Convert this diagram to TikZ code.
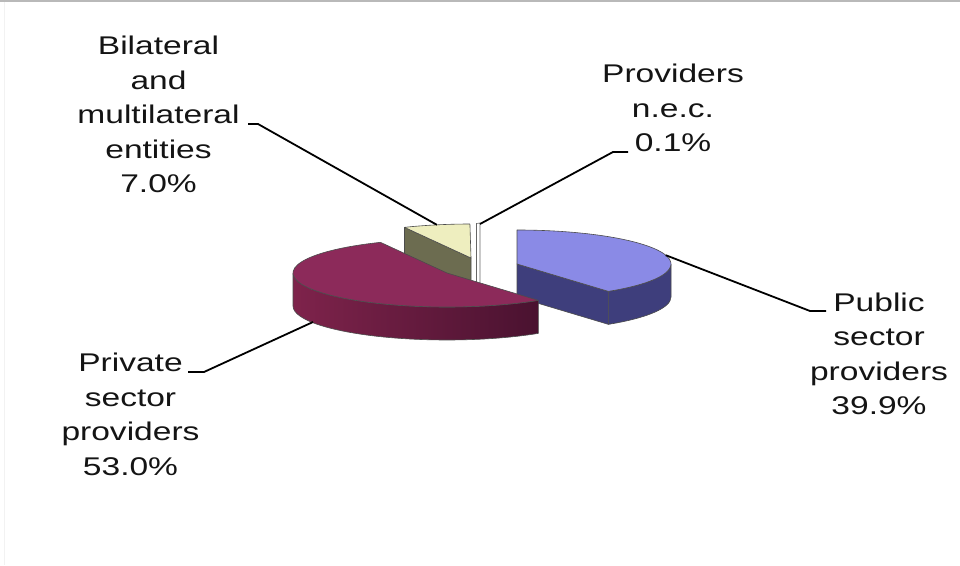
\documentclass[tikz,border=0pt]{standalone}
\usepackage{fontspec}
\setmainfont{Liberation Sans}[FakeStretch=1.31]
\usetikzlibrary{calc}

\definecolor{pubTop}{HTML}{8A8AE6}
\definecolor{pubSide}{HTML}{3E3E7C}
\definecolor{priTop}{HTML}{8C2A5A}
\definecolor{priSideL}{HTML}{7E234B}
\definecolor{priSideR}{HTML}{4A1230}
\definecolor{bilTop}{HTML}{EEEEBF}
\definecolor{bilSide}{HTML}{6C6C50}

\tikzset{
  face/.style={draw=black!70, line width=0.6pt, line join=round},
  lbl/.style={font=\fontsize{25.6}{34.5}\selectfont, align=center, inner sep=0pt, anchor=base, text=black!92},
  leader/.style={draw=black, line width=1.8pt, line join=round},
  ell/.style={x radius=154, y radius=34}
}

\begin{document}
\begin{tikzpicture}[x=1pt, y=1pt]
  \useasboundingbox (0,0) rectangle (960,565);
  \fill[white] (0,0) rectangle (960,565);
  % frame
  \draw[gray!55, line width=1.6pt] (0,564.2) -- (960,564.2);
  \draw[gray!10, line width=1pt] (4.5,0) -- (4.5,563);

  % slice centres (exploded pie, depth 33)
  \coordinate (cb) at (471,307);
  \coordinate (cn) at (478,307);
  \coordinate (cp) at (517,301);
  \coordinate (cm) at (447,292);

  % bilateral and multilateral entities (90.4 -- 115.6)
  \fill[bilSide, face] (cb) -- ++(115.6:154 and 34) -- ++(0,-33) -- ($(cb)+(0,-33)$) -- cycle;
  \fill[bilTop, face] (cb) -- ++(90.4:154 and 34) arc[start angle=90.4, end angle=115.6, ell] -- cycle;

  % providers n.e.c. (thin sliver)
  \fill[white, draw=black!60, line width=0.6pt] (476.5,341.5) -- (480,342) -- (480,280) -- (476.5,280) -- cycle;

  % public sector providers (-53.6 -- 90)
  \fill[pubSide, face] (cp) -- ++(-53.6:154 and 34) -- ++(0,-33) -- ($(cp)+(0,-33)$) -- cycle;
  \fill[pubSide, face] (cp) ++(-53.6:154 and 34) arc[start angle=-53.6, end angle=0, ell]
        -- ++(0,-33) arc[start angle=0, end angle=-53.6, ell] -- cycle;
  \fill[pubTop, face] (cp) -- ++(-53.6:154 and 34) arc[start angle=-53.6, end angle=90, ell] -- cycle;

  % private sector providers (115.6 -- 306.4)
  \path[face, left color=priSideL, right color=priSideR] (cm) ++(180:154 and 34) arc[start angle=180, end angle=306.4, ell]
        -- ++(0,-33) arc[start angle=306.4, end angle=180, ell] -- cycle;
  \fill[priTop, face] (cm) -- ++(115.6:154 and 34) arc[start angle=115.6, end angle=306.4, ell] -- cycle;

  % leader anchors on the slices
  \coordinate (abil) at ($(cb)+(102.8:154 and 34)$);
  \coordinate (anec) at (480,341);
  \coordinate (apub) at ($(cp)+(15:154 and 34)$);
  \coordinate (apri) at (313,243);

  % labels (base anchor = baseline of the last line)
  \node[lbl] (tbil) at (158.5,372) {Bilateral\\and\\multilateral\\entities\\7.0\%};
  \node[lbl] (tnec) at (673,413) {Providers\\n.e.c.\\0.1\%};
  \node[lbl] (tpub) at (879,150) {Public\\sector\\providers\\39.9\%};
  \node[lbl] (tpri) at (130.5,90) {Private\\sector\\providers\\53.0\%};

  % leader lines
  \coordinate (kbil) at (258,441);
  \coordinate (knec) at (613,413);
  \coordinate (kpub) at (810,254);
  \coordinate (kpri) at (204,193);
  \draw[leader] (248,441) -- (kbil) -- (abil);
  \draw[leader] (628,413) -- (knec) -- (anec);
  \draw[leader] (826,254) -- (kpub) -- (apub);
  \draw[leader] (188,193) -- (kpri) -- (apri);
\end{tikzpicture}
\end{document}
